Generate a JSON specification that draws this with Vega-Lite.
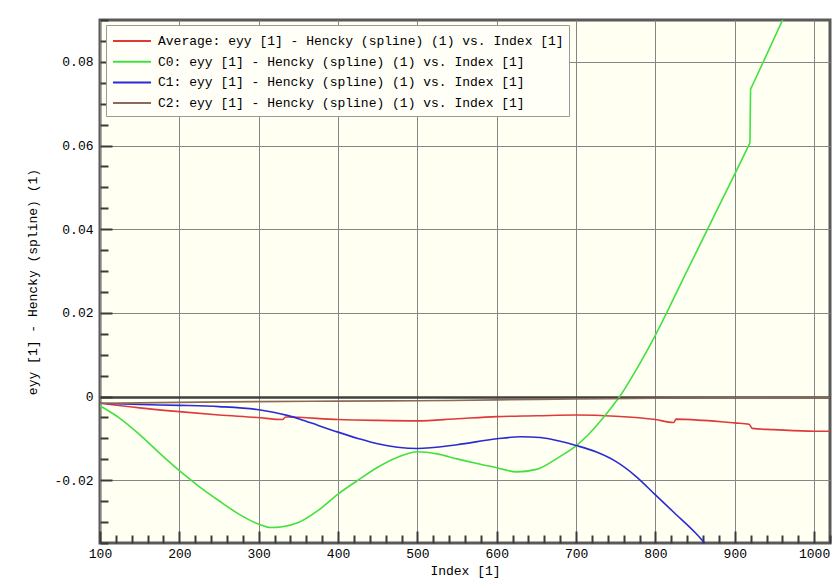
{
  "$schema": "https://vega.github.io/schema/vega-lite/v6.json",
  "width": 730,
  "height": 523,
  "autosize": "none",
  "padding": {"left": 100, "top": 20, "right": 8, "bottom": 42},
  "background": "#ffffff",
  "config": {
    "view": {"fill": "#fffff2", "stroke": "#5a5a5a", "strokeWidth": 3},
    "font": "Liberation Mono",
    "axis": {
      "labelFont": "Liberation Mono",
      "titleFont": "Liberation Mono",
      "labelFontSize": 13,
      "titleFontSize": 13,
      "titleFontWeight": "normal",
      "labelColor": "#000000",
      "titleColor": "#000000",
      "domain": false,
      "grid": true,
      "gridOpacity": 1,
      "tickColor": "#3a3a3a",
      "tickWidth": 2
    }
  },
  "data": {
    "values": [
      {"series": "Average", "index": 100, "value": -0.0016},
      {"series": "Average", "index": 150, "value": -0.0027},
      {"series": "Average", "index": 200, "value": -0.0036},
      {"series": "Average", "index": 250, "value": -0.0044},
      {"series": "Average", "index": 298, "value": -0.0050},
      {"series": "Average", "index": 330, "value": -0.0055},
      {"series": "Average", "index": 334, "value": -0.0049},
      {"series": "Average", "index": 400, "value": -0.0055},
      {"series": "Average", "index": 450, "value": -0.0057},
      {"series": "Average", "index": 500, "value": -0.0058},
      {"series": "Average", "index": 550, "value": -0.0053},
      {"series": "Average", "index": 600, "value": -0.0048},
      {"series": "Average", "index": 650, "value": -0.0046},
      {"series": "Average", "index": 700, "value": -0.0044},
      {"series": "Average", "index": 750, "value": -0.0047},
      {"series": "Average", "index": 800, "value": -0.0055},
      {"series": "Average", "index": 823, "value": -0.0062},
      {"series": "Average", "index": 826, "value": -0.0054},
      {"series": "Average", "index": 860, "value": -0.0057},
      {"series": "Average", "index": 900, "value": -0.0063},
      {"series": "Average", "index": 918, "value": -0.0066},
      {"series": "Average", "index": 922, "value": -0.0076},
      {"series": "Average", "index": 950, "value": -0.0079},
      {"series": "Average", "index": 1000, "value": -0.0083},
      {"series": "Average", "index": 1020, "value": -0.0083},
      {"series": "C0", "index": 100, "value": -0.0022},
      {"series": "C0", "index": 125, "value": -0.0052},
      {"series": "C0", "index": 150, "value": -0.0091},
      {"series": "C0", "index": 175, "value": -0.0135},
      {"series": "C0", "index": 200, "value": -0.0177},
      {"series": "C0", "index": 225, "value": -0.0215},
      {"series": "C0", "index": 250, "value": -0.0249},
      {"series": "C0", "index": 275, "value": -0.0281},
      {"series": "C0", "index": 300, "value": -0.0305},
      {"series": "C0", "index": 315, "value": -0.0313},
      {"series": "C0", "index": 330, "value": -0.0311},
      {"series": "C0", "index": 350, "value": -0.0301},
      {"series": "C0", "index": 375, "value": -0.0272},
      {"series": "C0", "index": 400, "value": -0.0233},
      {"series": "C0", "index": 425, "value": -0.0200},
      {"series": "C0", "index": 450, "value": -0.0169},
      {"series": "C0", "index": 475, "value": -0.0145},
      {"series": "C0", "index": 500, "value": -0.0132},
      {"series": "C0", "index": 525, "value": -0.0137},
      {"series": "C0", "index": 550, "value": -0.0149},
      {"series": "C0", "index": 575, "value": -0.0160},
      {"series": "C0", "index": 600, "value": -0.0170},
      {"series": "C0", "index": 625, "value": -0.0180},
      {"series": "C0", "index": 650, "value": -0.0174},
      {"series": "C0", "index": 680, "value": -0.0143},
      {"series": "C0", "index": 700, "value": -0.0118},
      {"series": "C0", "index": 715, "value": -0.0092},
      {"series": "C0", "index": 731, "value": -0.0058},
      {"series": "C0", "index": 745, "value": -0.0025},
      {"series": "C0", "index": 756, "value": 0.0003},
      {"series": "C0", "index": 777, "value": 0.0068},
      {"series": "C0", "index": 800, "value": 0.0147},
      {"series": "C0", "index": 840, "value": 0.0301},
      {"series": "C0", "index": 880, "value": 0.0455},
      {"series": "C0", "index": 918, "value": 0.0602},
      {"series": "C0", "index": 919, "value": 0.0606},
      {"series": "C0", "index": 920, "value": 0.0735},
      {"series": "C0", "index": 921, "value": 0.0739},
      {"series": "C0", "index": 961, "value": 0.0903},
      {"series": "C0", "index": 980, "value": 0.0980},
      {"series": "C1", "index": 100, "value": -0.0016},
      {"series": "C1", "index": 150, "value": -0.0019},
      {"series": "C1", "index": 200, "value": -0.0021},
      {"series": "C1", "index": 250, "value": -0.0024},
      {"series": "C1", "index": 298, "value": -0.0031},
      {"series": "C1", "index": 320, "value": -0.0038},
      {"series": "C1", "index": 336, "value": -0.0045},
      {"series": "C1", "index": 352, "value": -0.0054},
      {"series": "C1", "index": 375, "value": -0.0069},
      {"series": "C1", "index": 400, "value": -0.0085},
      {"series": "C1", "index": 425, "value": -0.0100},
      {"series": "C1", "index": 450, "value": -0.0113},
      {"series": "C1", "index": 475, "value": -0.0121},
      {"series": "C1", "index": 500, "value": -0.0124},
      {"series": "C1", "index": 550, "value": -0.0115},
      {"series": "C1", "index": 600, "value": -0.0101},
      {"series": "C1", "index": 630, "value": -0.0096},
      {"series": "C1", "index": 655, "value": -0.0098},
      {"series": "C1", "index": 680, "value": -0.0107},
      {"series": "C1", "index": 700, "value": -0.0117},
      {"series": "C1", "index": 725, "value": -0.0132},
      {"series": "C1", "index": 750, "value": -0.0155},
      {"series": "C1", "index": 775, "value": -0.0190},
      {"series": "C1", "index": 800, "value": -0.0235},
      {"series": "C1", "index": 825, "value": -0.0280},
      {"series": "C1", "index": 850, "value": -0.0325},
      {"series": "C1", "index": 862, "value": -0.0350},
      {"series": "C1", "index": 880, "value": -0.0390},
      {"series": "C2", "index": 100, "value": -0.0016},
      {"series": "C2", "index": 200, "value": -0.0014},
      {"series": "C2", "index": 300, "value": -0.0012},
      {"series": "C2", "index": 400, "value": -0.0011},
      {"series": "C2", "index": 500, "value": -0.0010},
      {"series": "C2", "index": 600, "value": -0.0008},
      {"series": "C2", "index": 700, "value": -0.0006},
      {"series": "C2", "index": 800, "value": -0.0004},
      {"series": "C2", "index": 900, "value": -0.0003},
      {"series": "C2", "index": 1020, "value": -0.0002}
    ]
  },
  "mark": {"type": "line", "clip": true, "strokeWidth": 1.6, "interpolate": "monotone"},
  "encoding": {
    "x": {
      "field": "index",
      "type": "quantitative",
      "title": "Index [1]",
      "scale": {"domain": [100, 1020], "nice": false, "zero": false},
      "axis": {
        "values": [100,120,140,160,180,200,220,240,260,280,300,320,340,360,380,400,420,440,460,480,500,520,540,560,580,600,620,640,660,680,700,720,740,760,780,800,820,840,860,880,900,920,940,960,980,1000,1020],
        "labelExpr": "datum.value % 100 === 0 ? datum.value : ''",
        "tickSize": {"expr": "datum.value % 100 === 0 ? -12 : -8"},
        "labelPadding": 16,
        "gridColor": {"condition": {"test": "datum.value % 100 === 0", "value": "#858585"}, "value": "transparent"},
        "titlePadding": 4,
        "labelFlush": false
      }
    },
    "y": {
      "field": "value",
      "type": "quantitative",
      "title": "eyy [1] - Hencky (spline) (1)",
      "scale": {"domain": [-0.035, 0.09], "nice": false, "zero": false},
      "axis": {
        "values": [-0.035,-0.03,-0.025,-0.02,-0.015,-0.01,-0.005,0,0.005,0.01,0.015,0.02,0.025,0.03,0.035,0.04,0.045,0.05,0.055,0.06,0.065,0.07,0.075,0.08,0.085,0.09],
        "labelExpr": "abs(datum.value*50 - round(datum.value*50)) < 1e-6 ? (abs(datum.value) < 1e-9 ? '0' : replace(format(datum.value, '.2f'), '−', '-')) : ''",
        "tickSize": {"expr": "abs(datum.value*50 - round(datum.value*50)) < 1e-6 ? -12 : -8"},
        "labelPadding": 19,
        "gridColor": {"expr": "abs(datum.value) < 1e-9 ? '#404040' : (abs(datum.value*50 - round(datum.value*50)) < 1e-6 ? '#858585' : 'transparent')"},
        "gridWidth": {"expr": "abs(datum.value) < 1e-9 ? 2.5 : 1"},
        "titlePadding": 14,
        "labelFlush": false
      }
    },
    "color": {
      "field": "series",
      "type": "nominal",
      "scale": {
        "domain": ["Average", "C0", "C1", "C2"],
        "range": ["#e0393b", "#42e042", "#2b2bd6", "#8b6b58"]
      },
      "legend": {
        "orient": "none",
        "legendX": 6,
        "legendY": 5,
        "title": null,
        "padding": 5,
        "fillColor": "#fffff8",
        "strokeColor": "#9a9a9a",
        "symbolType": "M-1.9,0H1.9",
        "symbolSize": 400,
        "symbolStrokeWidth": 2,
        "symbolOffset": 10,
        "labelOffset": 15,
        "rowPadding": 2.7,
        "labelFont": "Liberation Mono",
        "labelFontSize": 13,
        "labelColor": "#000000",
        "labelLimit": 0,
        "labelExpr": "datum.label + ': eyy [1] - Hencky (spline) (1) vs. Index [1]'"
      }
    }
  }
}
